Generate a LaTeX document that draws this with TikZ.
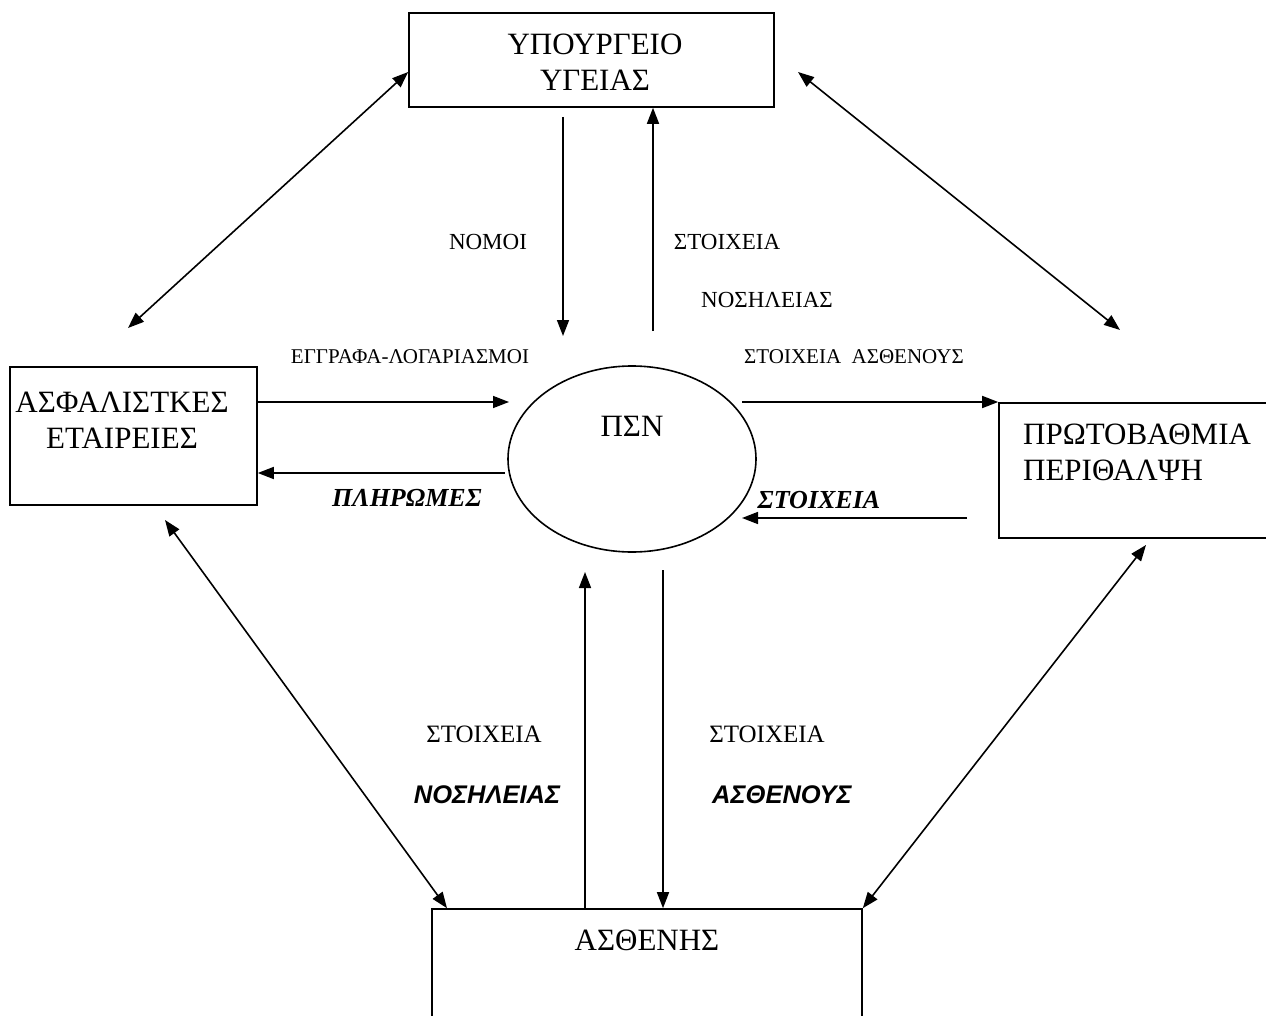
\documentclass[tikz,border=0pt]{standalone}
\usepackage{fontspec}
\setmainfont{Liberation Serif}
\setsansfont{Liberation Sans}
\usetikzlibrary{arrows.meta,shapes.geometric}
\begin{document}
\begin{tikzpicture}[x=1pt,y=-1pt,
  line width=1.6pt,
  box/.style={draw,rectangle,line width=1.6pt,inner sep=0pt},
  flow/.style={-{Triangle[length=16pt,width=12pt]}},
  both/.style={{Triangle[length=16pt,width=12pt]}-{Triangle[length=16pt,width=12pt]}},
  big/.style={font=\fontsize{31}{36}\selectfont},
  lbl/.style={font=\fontsize{23}{27}\selectfont},
  lblb/.style={font=\fontsize{25}{29}\selectfont},
  small/.style={font=\fontsize{21}{25}\selectfont},
  bis/.style={font=\fontsize{26}{30}\selectfont\bfseries\itshape},
  bia/.style={font=\fontsize{25.5}{30}\sffamily\bfseries\itshape}]
\useasboundingbox[fill=white] (0,0) rectangle (1266,1016);
\begin{scope}
\clip (0,0) rectangle (1266,1016);
% entities
\node[box,minimum width=365pt,minimum height=94pt] (moh) at (591.5,60) {};
\node[big,align=center] (mohtext) at (595,62) {ΥΠΟΥΡΓΕΙΟ\\ΥΓΕΙΑΣ};
\node[box,minimum width=247pt,minimum height=138pt] (ins) at (133.5,436) {};
\node[big,align=center] (instext) at (122,420) {ΑΣΦΑΛΙΣΤΚΕΣ\\ΕΤΑΙΡΕΙΕΣ};
\node[box,minimum width=290pt,minimum height=135pt] (pc) at (1144,470.5) {};
\node[big,align=left,anchor=west] (pctext) at (1019,452) {ΠΡΩΤΟΒΑΘΜΙΑ\\ΠΕΡΙΘΑΛΨΗ};
\node[box,minimum width=430pt,minimum height=130pt] (pat) at (647,974) {};
\node[big] (pattext) at (647,940) {ΑΣΘΕΝΗΣ};
\node[draw,ellipse,line width=1.6pt,minimum width=248pt,minimum height=186pt,inner sep=0pt] (psn) at (632,459) {};
\node[big] (psntext) at (632,426) {ΠΣΝ};
% free ends of the flows
\coordinate (nomA) at (563,117);
\coordinate (nomB) at (563,336);
\coordinate (stA) at (653,331);
\coordinate (egA) at (509,402);
\coordinate (plA) at (505,473);
\coordinate (saA) at (742,402);
\coordinate (stiA) at (967,518);
\coordinate (stiB) at (742,518);
\coordinate (bnB) at (585,572);
\coordinate (baA) at (663,570);
% flows to and from the ministry
\draw[flow] (nomA) -- (nomB);
\draw[flow] (stA) -- (stA |- moh.south);
\node[lbl] (nomoi) at (488,242) {ΝΟΜΟΙ};
\node[lbl] (st1) at (727,242) {ΣΤΟΙΧΕΙΑ};
\node[lbl] (nos1) at (767,300) {ΝΟΣΗΛΕΙΑΣ};
% flows with the insurers
\draw[flow] (ins.east |- egA) -- (egA);
\draw[flow] (plA) -- (ins.east |- plA);
\node[small] (egr) at (410,357) {ΕΓΓΡΑΦΑ-ΛΟΓΑΡΙΑΣΜΟΙ};
\node[bis] (plir) at (407,498) {ΠΛΗΡΩΜΕΣ};
% flows with primary care
\draw[flow] (saA) -- (saA -| pc.west);
\draw[flow] (stiA) -- (stiB);
\node[small] (stas) at (854,357) {ΣΤΟΙΧΕΙΑ\ \ ΑΣΘΕΝΟΥΣ};
\node[bis] (stix) at (819,500) {ΣΤΟΙΧΕΙΑ};
% flows with the patient
\draw[flow] (bnB |- pat.north) -- (bnB);
\draw[flow] (baA) -- (baA |- pat.north);
\node[lblb] (st2) at (484,734) {ΣΤΟΙΧΕΙΑ};
\node[bia] (nos2) at (487,795) {ΝΟΣΗΛΕΙΑΣ};
\node[lblb] (st3) at (767,734) {ΣΤΟΙΧΕΙΑ};
\node[bia] (asth) at (782,795) {ΑΣΘΕΝΟΥΣ};
% links between the outer entities
\coordinate (tlA) at (128,328);
\coordinate (trA) at (798,72);
\coordinate (trB) at (1120,330);
\coordinate (blA) at (165,520);
\coordinate (brA) at (1146,545);
\draw[both] (moh.west |- 0,72) -- (tlA);
\draw[both] (trA) -- (trB);
\draw[both] (blA) -- (pat.north west -| 447,0);
\draw[both] (brA) -- (pat.north east);
\end{scope}
\end{tikzpicture}
\end{document}
